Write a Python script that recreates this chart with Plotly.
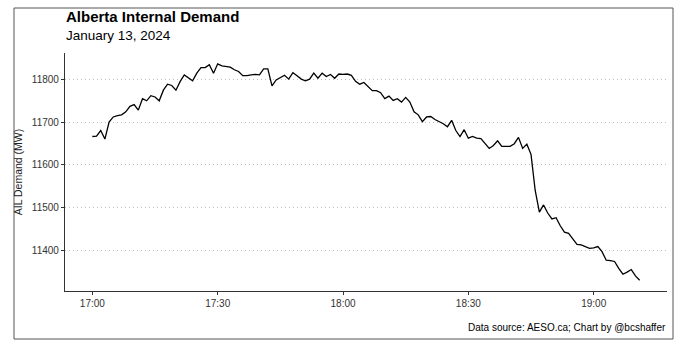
import pandas as pd
import plotly.graph_objects as go

# ---- data ----
start_time = "2024-01-13 17:00"
demand_mw = [
    11667, 11668, 11681, 11661, 11701, 11713, 11716, 11718, 11725, 11738,
    11742, 11729, 11756, 11751, 11763, 11760, 11751, 11776, 11790, 11787,
    11776, 11796, 11812, 11806, 11798, 11816, 11829, 11829, 11836, 11816,
    11838, 11833, 11832, 11830, 11824, 11820, 11810, 11810, 11812, 11813,
    11812, 11826, 11826, 11786, 11800, 11806, 11811, 11802, 11817, 11810,
    11802, 11798, 11802, 11816, 11804, 11816, 11808, 11813, 11804, 11814,
    11813, 11814, 11811, 11797, 11790, 11794, 11784, 11775, 11775, 11770,
    11756, 11762, 11752, 11756, 11748, 11759, 11748, 11725, 11718, 11702,
    11713, 11714, 11707, 11702, 11697, 11690, 11705, 11681, 11667, 11683,
    11663, 11667, 11663, 11662, 11650, 11639, 11646, 11657, 11644, 11644,
    11644, 11650, 11665, 11639, 11649, 11625, 11540, 11489, 11506, 11487,
    11473, 11476, 11457, 11442, 11439, 11426, 11413, 11412, 11408, 11404,
    11405, 11408, 11396, 11376, 11375, 11373, 11357, 11343, 11348, 11354,
    11339, 11329,
]
times = pd.date_range(start_time, periods=len(demand_mw), freq="1min")
y_ticks = [11400, 11500, 11600, 11700, 11800]
y_tick_labels = ["11400", "11500", "11600", "11700", "11800"]
x_ticks = ["2024-01-13 17:00", "2024-01-13 17:30", "2024-01-13 18:00",
           "2024-01-13 18:30", "2024-01-13 19:00"]
x_tick_labels = ["17:00", "17:30", "18:00", "18:30", "19:00"]

title = "Alberta Internal Demand"
subtitle = "January 13, 2024"
y_title = "AIL Demand (MW)"
caption = "Data source: AESO.ca; Chart by @bcshaffer"

# ---- layout geometry ----
W, H = 688, 348
ML, MR, MT, MB = 65, 21, 53, 57
FONT = "Liberation Sans, Arial, Helvetica, sans-serif"

# ggplot-style 5% expansion
ymin, ymax = min(demand_mw), max(demand_mw)
yr = ymax - ymin
y_range = [ymin - 0.05 * yr, ymax + 0.05 * yr]
span = times[-1] - times[0]
x_range = [times[0] - 0.05 * span, times[-1] + 0.05 * span]

fig = go.Figure()
fig.add_trace(go.Scatter(
    x=times, y=demand_mw, mode="lines",
    line=dict(color="#000000", width=1.3),
    hoverinfo="x+y", showlegend=False,
))

pw = W - ML - MR
ph = H - MT - MB
def px_x(p):
    return (p - ML) / pw
def px_y(p):
    return (H - MB - p) / ph

fig.update_layout(
    width=W, height=H,
    margin=dict(l=ML, r=MR, t=MT, b=MB),
    paper_bgcolor="white", plot_bgcolor="white",
    font=dict(family=FONT, color="#333333"),
    xaxis=dict(
        range=x_range, tickvals=x_ticks, ticktext=x_tick_labels,
        showgrid=False, zeroline=False,
        showline=True, linecolor="#333333", linewidth=1.2,
        ticks="outside", ticklen=3, tickcolor="#333333", tickwidth=1,
        tickfont=dict(size=10, color="#333333", family=FONT),
    ),
    yaxis=dict(
        range=y_range, tickvals=y_ticks, ticktext=y_tick_labels,
        showgrid=True, gridcolor="#bdbdbd", griddash="1px,3px", gridwidth=1,
        zeroline=False,
        showline=True, linecolor="#333333", linewidth=1.2,
        ticks="outside", ticklen=3, tickcolor="#333333", tickwidth=1,
        tickfont=dict(size=10, color="#333333", family=FONT),
        title=dict(text=y_title, font=dict(size=10.5, color="#222222", family=FONT), standoff=7),
    ),
    shapes=[dict(
        type="rect", xref="paper", yref="paper",
        x0=px_x(14), x1=px_x(673), y0=px_y(339), y1=px_y(8),
        line=dict(color="#555555", width=1), fillcolor="rgba(0,0,0,0)", layer="below",
    )],
    annotations=[
        dict(text="<b>" + title + "</b>", xref="paper", yref="paper",
             x=px_x(64), y=px_y(27), xanchor="left", yanchor="bottom",
             showarrow=False, font=dict(size=15, color="#000000", family=FONT)),
        dict(text=subtitle, xref="paper", yref="paper",
             x=px_x(64), y=px_y(45), xanchor="left", yanchor="bottom",
             showarrow=False, font=dict(size=13.5, color="#000000", family=FONT)),
        dict(text=caption, xref="paper", yref="paper",
             x=px_x(668), y=px_y(327), xanchor="right", yanchor="middle",
             showarrow=False, font=dict(size=10, color="#000000", family=FONT)),
    ],
)

fig.write_html("out.html")
